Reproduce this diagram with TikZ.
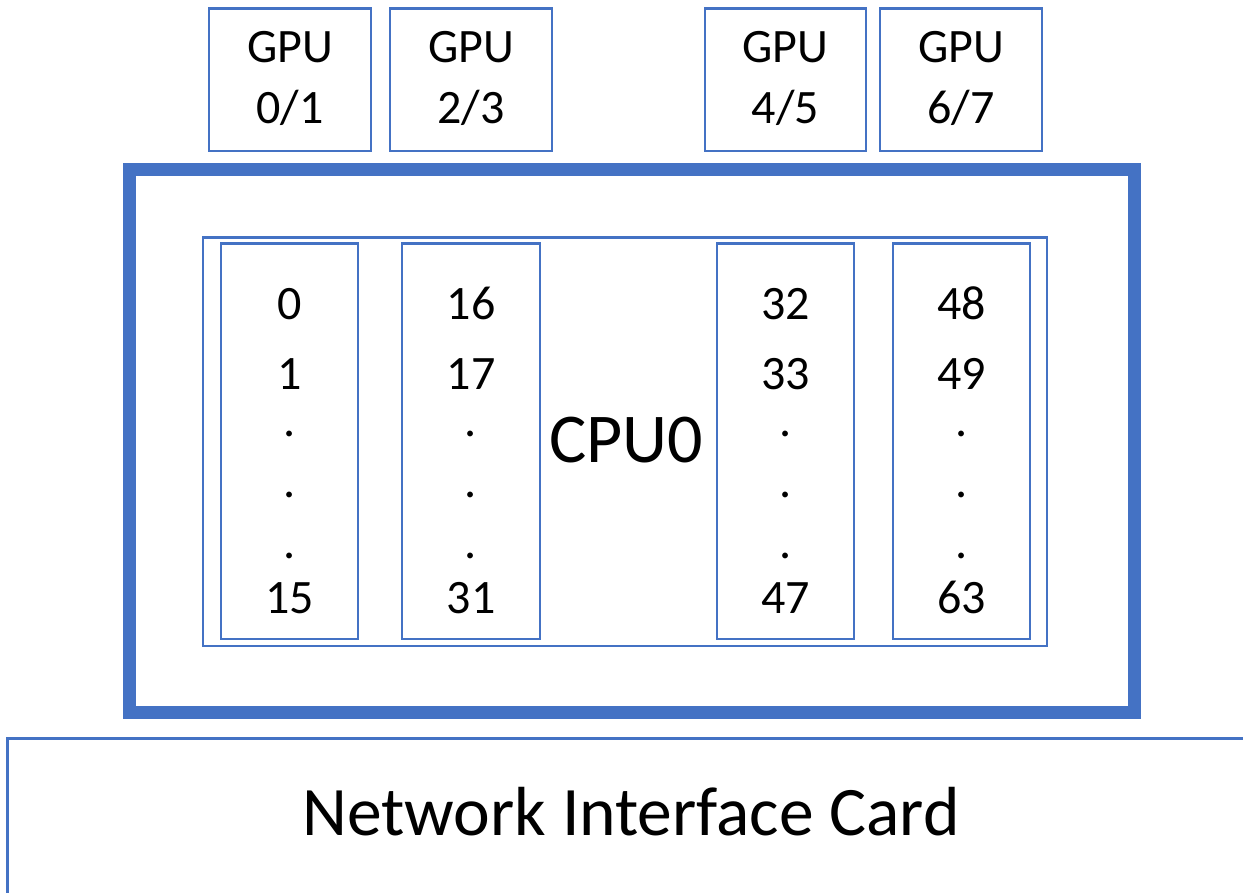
\documentclass[tikz,border=0pt]{standalone}
\usepackage{fontspec}
\setmainfont{Carlito}
\definecolor{officeblue}{HTML}{4472C4}
\begin{document}
\begin{tikzpicture}[x=1pt,y=-1pt,
  thinbox/.style={draw=officeblue,line width=2.2pt,inner sep=0pt,outer sep=0pt},
  cpubox/.style={draw=officeblue,line width=13pt},
  lbl/.style={font=\fontsize{48}{58}\selectfont,anchor=base,inner sep=0pt},
  biglbl/.style={font=\fontsize{70}{84}\selectfont,anchor=base,inner sep=0pt},
  niclbl/.style={font=\fontsize{69.5}{84}\selectfont,anchor=base,inner sep=0pt}]
\clip (0,0) rectangle (1243,893);
\fill[white] (0,0) rectangle (1243,893);

% GPU boxes along the top
\foreach \n/\xl/\xr/\t in {g01/209/371/0\slash1, g23/390/552/2\slash3, g45/705/866/4\slash5, g67/880/1042/6\slash7}{
  \draw[thinbox] (\xl,8.5) rectangle (\xr,151);
  \node[lbl] (\n a) at ({(\xl+\xr)/2},63) {GPU};
  \node[lbl] (\n b) at ({(\xl+\xr)/2},124) {\t};
}

% CPU package and core block
\draw[cpubox] (129.5,169.5) rectangle (1134.5,712.5);
\draw[thinbox] (203,237.5) rectangle (1047,646);
\node[biglbl] (cpu) at (626,462) {CPU0};

% core columns
\foreach \c/\xl/\xr/\a/\b/\z in {c0/221/358/0/1/15, c1/402/540/16/17/31, c2/717/854/32/33/47, c3/893/1030/48/49/63}{
  \draw[thinbox] (\xl,243.5) rectangle (\xr,639);
  \node[lbl] (\c a) at ({(\xl+\xr)/2},320) {\a};
  \node[lbl] (\c b) at ({(\xl+\xr)/2},389) {\b};
  \node[lbl] (\c d1) at ({(\xl+\xr)/2},436) {.};
  \node[lbl] (\c d2) at ({(\xl+\xr)/2},497) {.};
  \node[lbl] (\c d3) at ({(\xl+\xr)/2},558) {.};
  \node[lbl] (\c z) at ({(\xl+\xr)/2},613) {\z};
}

% network card along the bottom, running off the page
\draw[thinbox] (7.5,738.5) rectangle (1260,910);
\node[niclbl] (nic) at (631,835) {Network Interface Card};
\end{tikzpicture}
\end{document}
